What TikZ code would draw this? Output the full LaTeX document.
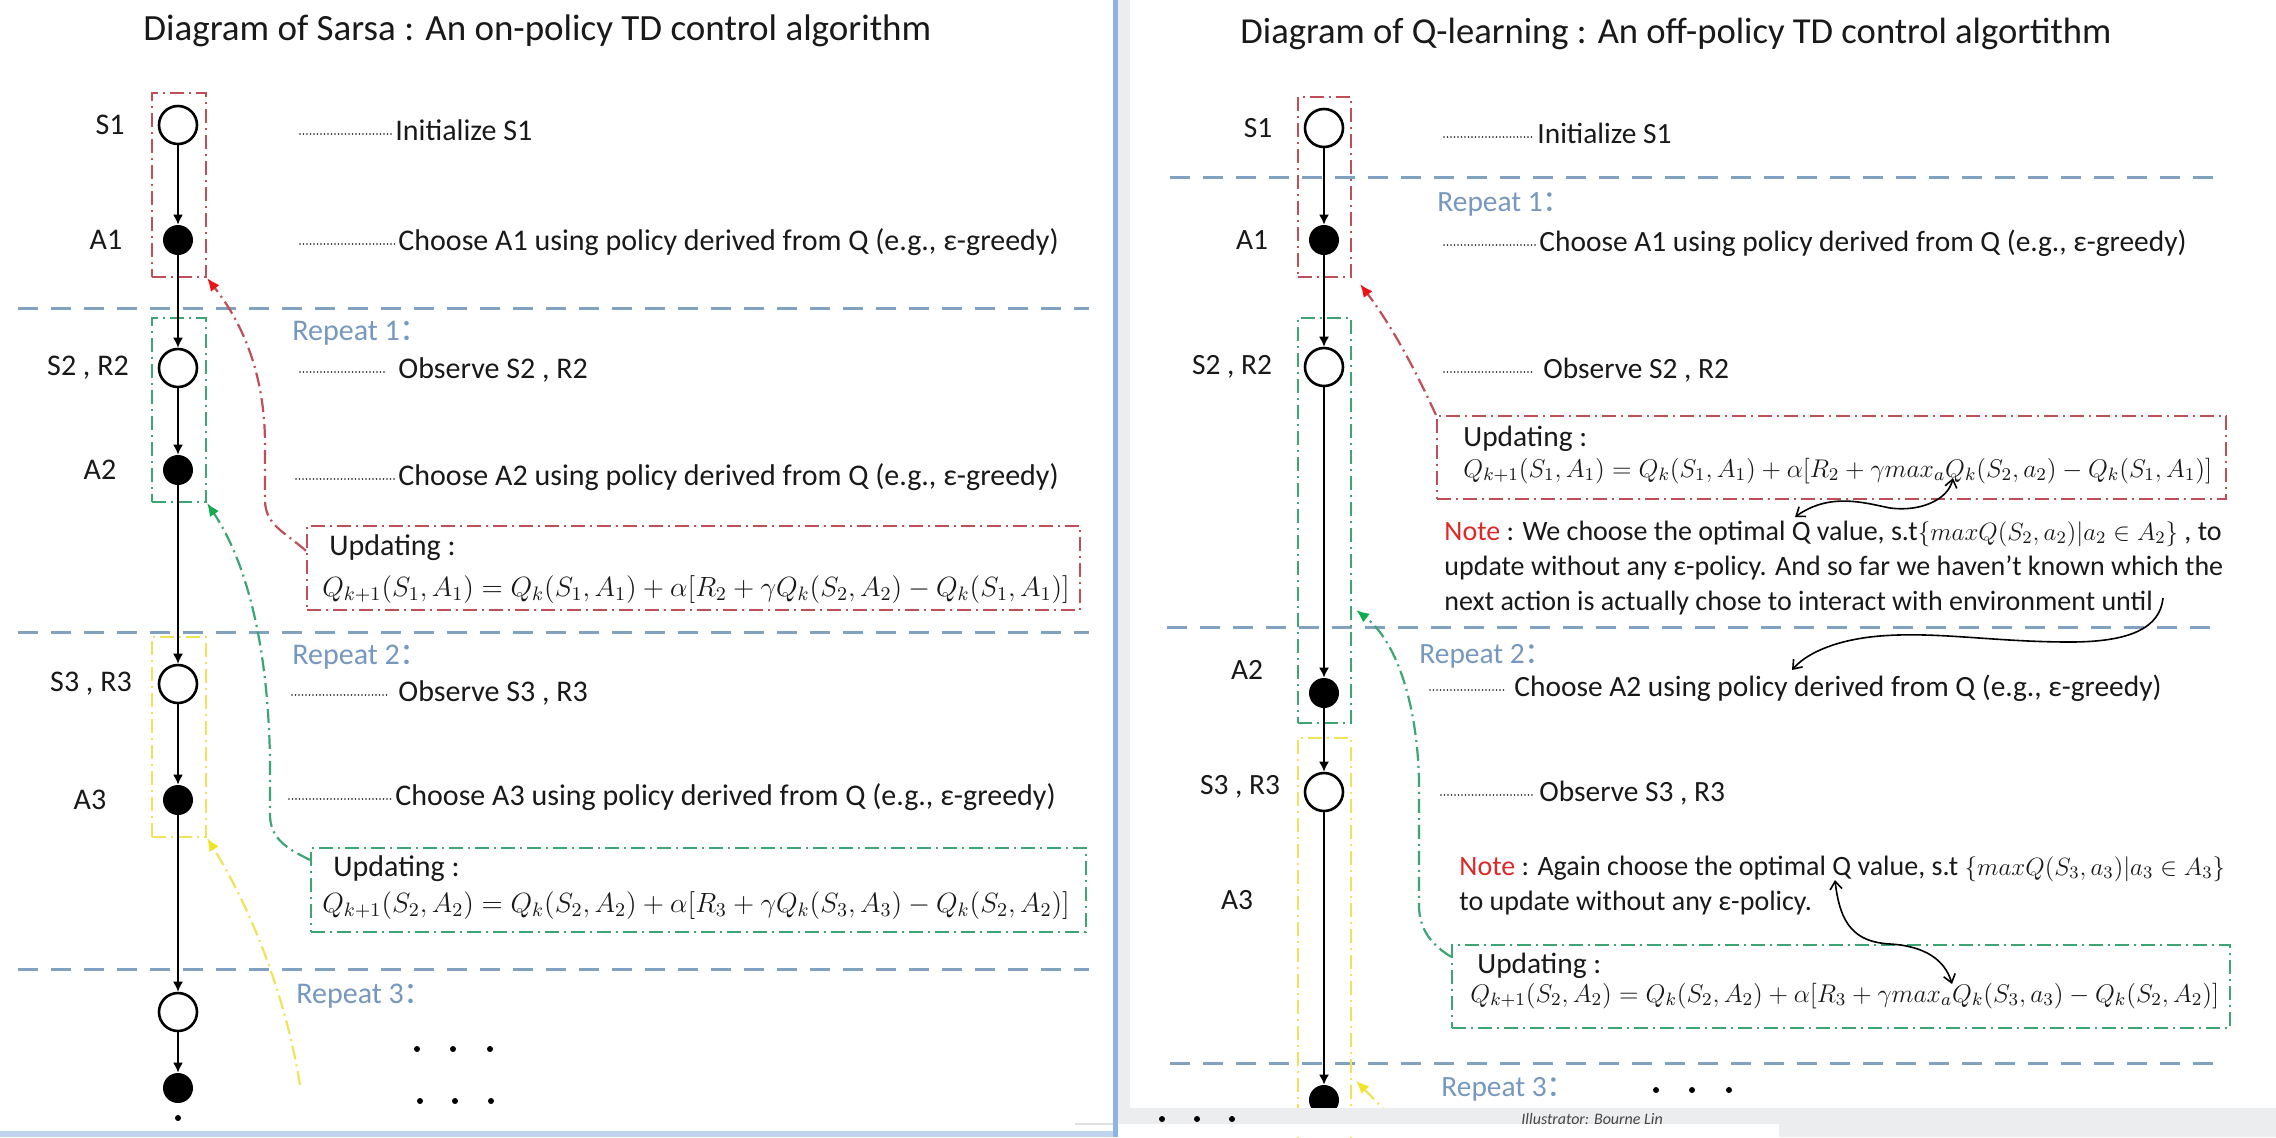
\RequirePackage{fix-cm}
\documentclass[tikz,border=0pt]{standalone}
\usepackage{fontspec}
\setmainfont{Carlito}
\newfontfamily\cjk{Noto Sans CJK SC}
\usetikzlibrary{arrows.meta,calc}
\definecolor{sepblue}{RGB}{128,162,192}
\definecolor{repblue}{RGB}{118,152,192}
\definecolor{boxred}{RGB}{190,78,88}
\definecolor{tipred}{RGB}{235,20,20}
\definecolor{boxgreen}{RGB}{60,165,115}
\definecolor{tipgreen}{RGB}{20,170,80}
\definecolor{boxyellow}{RGB}{238,228,90}
\definecolor{tipyellow}{RGB}{240,228,40}
\definecolor{notered}{RGB}{222,40,40}
\definecolor{ink}{RGB}{25,25,25}
\definecolor{frameblue}{RGB}{140,180,228}
\definecolor{stripgray}{RGB}{236,237,239}
\definecolor{lightblue}{RGB}{190,212,240}
\newcommand{\bodyfont}{\fontsize{15}{18}\selectfont}
\newcommand{\bodyfontR}{\fontsize{14.7}{18}\selectfont}
\newcommand{\notefont}{\fontsize{14}{17}\selectfont}
\newcommand{\titlefont}{\fontsize{18.5}{22}\selectfont}
\newcommand{\titlefontR}{\fontsize{18.3}{22}\selectfont}
\newcommand{\mathszL}{\fontsize{13.9}{16}\selectfont}
\newcommand{\mathszR}{\fontsize{12.8}{15}\selectfont}
\newcommand{\mathszN}{\fontsize{12.5}{15}\selectfont}
\newcommand{\rcolon}{{\cjk ：}}
\tikzset{
  sepline/.style={draw=sepblue, line width=1.5pt, dash pattern=on 10pt off 6.5pt},
  dashdot/.style={line width=1.1pt, dash pattern=on 7pt off 2.5pt on 1pt off 2.5pt},
  colbox/.style={dashdot, rectangle, inner sep=0pt, minimum width=27pt},
  updbox/.style={dashdot, rectangle, inner sep=0pt, minimum height=42pt},
  snode/.style={circle, draw=black, line width=1.3pt, fill=white, minimum size=19pt, inner sep=0pt},
  anode/.style={circle, fill=black, minimum size=15pt, inner sep=0pt},
  tinydot/.style={circle, fill=black, minimum size=3pt, inner sep=0pt},
  flow/.style={draw=black, line width=0.8pt, -{Latex[length=5pt,width=5pt]}},
  lbl/.style={font=\bodyfont, text=ink, inner sep=0pt},
  lblR/.style={font=\bodyfontR, text=ink, inner sep=0pt},
  txt/.style={font=\bodyfont, text=ink, inner sep=0pt, anchor=base west},
  txtR/.style={font=\bodyfontR, text=ink, inner sep=0pt, anchor=base west},
  note/.style={font=\notefont, text=ink, inner sep=0pt, anchor=base west},
  rep/.style={font=\bodyfont, text=repblue, inner sep=0pt, anchor=base west},
  repR/.style={font=\bodyfontR, text=repblue, inner sep=0pt, anchor=base west},
  ttl/.style={font=\titlefont, text=ink, inner sep=0pt, anchor=base west},
  ttlR/.style={font=\titlefontR, text=ink, inner sep=0pt, anchor=base west},
  fml/.style={font=\mathszL, text=ink, inner sep=0pt, anchor=base west},
  fmlR/.style={font=\mathszR, text=ink, inner sep=0pt, anchor=base west},
  leader/.style={draw=ink, line width=0.9pt, line cap=round, dash pattern=on 0pt off 1.75pt},
  wavy/.style={draw=black, line width=0.8pt},
  barb/.tip={Straight Barb[length=4pt,width=6pt]},
}
\begin{document}
\begin{tikzpicture}[x=0.5pt,y=-0.5pt]
\useasboundingbox (0,0) rectangle (2276,1137);
\fill[white] (0,0) rectangle (2276,1137);

% ---------------- LEFT PANEL (Sarsa) ----------------
\node[ttl] (Ltitle) at (143,40) {Diagram of Sarsa : An on-policy TD control algorithm};

\draw[sepline] (18,308) -- (1089,308);
\draw[sepline] (18,632) -- (1089,632);
\draw[sepline] (18,969) -- (1089,969);

\node[colbox, draw=boxred, minimum height=92pt] (LRbox) at (179,185) {};
\node[colbox, draw=boxgreen, minimum height=92pt] (LGbox) at (179,410) {};
\node[colbox, draw=boxyellow, minimum height=100pt] (LYbox) at (179,737) {};

\node[snode] (LS1) at (178,125) {};
\node[anode] (LA1) at (178,240) {};
\node[snode] (LS2) at (178,368) {};
\node[anode] (LA2) at (178,470) {};
\node[snode] (LS3) at (178,684) {};
\node[anode] (LA3) at (178,800) {};
\node[snode] (LS4) at (178,1012) {};
\node[anode] (LA4) at (178,1088) {};
\node[tinydot] (Lend) at (178,1118) {};
\draw[flow] (LS1) -- (LA1);
\draw[flow] (LA1) -- (LS2);
\draw[flow] (LS2) -- (LA2);
\draw[flow] (LA2) -- (LS3);
\draw[flow] (LS3) -- (LA3);
\draw[flow] (LA3) -- (LS4);
\draw[flow] (LS4) -- (LA4);

\node[lbl] (LlS1) at (110,125) {S1};
\node[lbl] (LlA1) at (106,240) {A1};
\node[lbl] (LlS2) at (88,368) {S2 , R2};
\node[lbl] (LlA2) at (100,470) {A2};
\node[lbl] (LlS3) at (91,684) {S3 , R3};
\node[lbl] (LlA3) at (90,800) {A3};

\node[txt] (Lt1) at (395,140) {Initialize S1};
\node[txt] (Lt2) at (398,250) {Choose A1 using policy derived from Q (e.g., ε-greedy)};
\node[txt] (Lt3) at (398,378) {Observe S2 , R2};
\node[txt] (Lt4) at (398,485) {Choose A2 using policy derived from Q (e.g., ε-greedy)};
\node[txt] (Lt5) at (398,701) {Observe S3 , R3};
\node[txt] (Lt6) at (395,805) {Choose A3 using policy derived from Q (e.g., ε-greedy)};
\coordinate (Ll1a) at (300,134); \coordinate (Ll1b) at (393,134);
\coordinate (Ll2a) at (300,244); \coordinate (Ll2b) at (395,244);
\coordinate (Ll3a) at (300,372); \coordinate (Ll3b) at (387,372);
\coordinate (Ll4a) at (296,479); \coordinate (Ll4b) at (395,479);
\coordinate (Ll5a) at (292,695); \coordinate (Ll5b) at (387,695);
\coordinate (Ll6a) at (289,799); \coordinate (Ll6b) at (391,799);
\foreach \i in {1,...,6} {\draw[leader] (Ll\i a) -- (Ll\i b);}

\node[rep] (Lr1) at (292,340) {Repeat 1\rcolon};
\node[rep] (Lr2) at (292,664) {Repeat 2\rcolon};
\node[rep] (Lr3) at (296,1003) {Repeat 3\rcolon};

\node[updbox, draw=boxred, minimum width=386.5pt] (LRupd) at (693.5,568) {};
\node[txt] (LRu1) at (329,555) {Updating :};
\node[fml] (LRu2) at (322,596) {$Q_{k+1}(S_1,A_1) = Q_k(S_1,A_1) + \alpha[R_2 + \gamma Q_k(S_2,A_2) - Q_k(S_1,A_1)]$};

\node[updbox, draw=boxgreen, minimum width=387.5pt] (LGupd) at (698.5,890) {};
\node[txt] (LGu1) at (333,876) {Updating :};
\node[fml] (LGu2) at (322,912) {$Q_{k+1}(S_2,A_2) = Q_k(S_2,A_2) + \alpha[R_3 + \gamma Q_k(S_3,A_3) - Q_k(S_2,A_2)]$};

\draw[dashdot, draw=boxred, -{Latex[length=6.5pt,width=5.5pt,color=tipred]}]
  ($(LRupd.north west)!0.3!(LRupd.south west)$) .. controls (285,532) and (265,525) .. (265,500)
  -- (265,445) .. controls (265,370) and (240,320) .. (LRbox.south east);
\draw[dashdot, draw=boxgreen, -{Latex[length=6.5pt,width=5.5pt,color=tipgreen]}]
  ($(LGupd.north west)!0.15!(LGupd.south west)$) .. controls (290,850) and (270,840) .. (270,815)
  -- (270,760) .. controls (268,640) and (245,560) .. (LGbox.south east);
\coordinate (Ly0) at (300,1085);
\draw[dashdot, draw=boxyellow, -{Latex[length=6.5pt,width=5.5pt,color=tipyellow]}]
  (Ly0) .. controls (288,1010) and (258,920) .. (LYbox.south east);

\foreach \x/\n in {417/a,453/b,490/c} {\node[tinydot] (Ldu\n) at (\x,1049) {};}
\foreach \x/\n in {420/a,455/b,491/c} {\node[tinydot] (Ldd\n) at (\x,1101) {};}

% ---------------- RIGHT PANEL (Q-learning) ----------------
\node[ttlR] (Rtitle) at (1240,43) {Diagram of Q-learning : An off-policy TD control algortithm};

\draw[sepline] (1170,177) -- (2216,177);
\draw[sepline] (1167,627) -- (2212,627);
\draw[sepline] (1170,1063) -- (2216,1063);

\node[colbox, draw=boxred, minimum width=26.5pt, minimum height=90pt] (RRbox) at (1324.5,187) {};
\node[colbox, draw=boxgreen, minimum width=26.5pt, minimum height=202.5pt] (RGbox) at (1324.5,520.5) {};
\node[colbox, draw=boxyellow, minimum width=26.5pt, minimum height=206pt] (RYbox) at (1324.5,944) {};

\node[snode] (RS1) at (1324,128) {};
\node[anode] (RA1) at (1324,240) {};
\node[snode] (RS2) at (1324,367) {};
\node[anode] (RA2) at (1324,693) {};
\node[snode] (RS3) at (1324,792) {};
\node[anode] (RA3) at (1324,1100) {};
\draw[flow] (RS1) -- (RA1);
\draw[flow] (RA1) -- (RS2);
\draw[flow] (RS2) -- (RA2);
\draw[flow] (RA2) -- (RS3);
\draw[flow] (RS3) -- (RA3);

\node[lblR] (RlS1) at (1258,128) {S1};
\node[lblR] (RlA1) at (1252,240) {A1};
\node[lblR] (RlS2) at (1232,367) {S2 , R2};
\node[lblR] (RlA2) at (1247,670) {A2};
\node[lblR] (RlS3) at (1240,787) {S3 , R3};
\node[lblR] (RlA3) at (1237,900) {A3};

\node[txtR] (Rt1) at (1537,143) {Initialize S1};
\node[txtR] (Rt2) at (1539,251) {Choose A1 using policy derived from Q (e.g., ε-greedy)};
\node[txtR] (Rt3) at (1543,378) {Observe S2 , R2};
\node[txtR] (Rt4) at (1514,696) {Choose A2 using policy derived from Q (e.g., ε-greedy)};
\node[txtR] (Rt5) at (1539,801) {Observe S3 , R3};
\coordinate (Rl1a) at (1444,137); \coordinate (Rl1b) at (1534,137);
\coordinate (Rl2a) at (1444,245); \coordinate (Rl2b) at (1536,245);
\coordinate (Rl3a) at (1444,372); \coordinate (Rl3b) at (1532,372);
\coordinate (Rl4a) at (1430,690); \coordinate (Rl4b) at (1506,690);
\coordinate (Rl5a) at (1441,795); \coordinate (Rl5b) at (1532,795);
\foreach \i in {1,...,5} {\draw[leader] (Rl\i a) -- (Rl\i b);}

\node[repR] (Rr1) at (1437,211) {Repeat 1\rcolon};
\node[repR] (Rr2) at (1419,663) {Repeat 2\rcolon};
\node[repR] (Rr3) at (1441,1096) {Repeat 3\rcolon};

\node[updbox, draw=boxred, minimum width=394.5pt, minimum height=41.5pt] (RRupd) at (1831.5,457.5) {};
\node[txtR] (RRu1) at (1463,446) {Updating :};
\node[fmlR] (RRu2) at (1463,477) {$Q_{k+1}(S_1,A_1) = Q_k(S_1,A_1) + \alpha[R_2 + \gamma max_aQ_k(S_2,a_2) - Q_k(S_1,A_1)]$};

\node[note] (Rn1) at (1444,540) {\textcolor{notered}{Note} : We choose the optimal Q value, s.t{\mathszN$\{maxQ(S_2,a_2)|a_2 \in A_2\}$} , to};
\node[note] (Rn2) at (1444,575) {update without any ε-policy. And so far we haven’t known which the};
\node[note] (Rn3) at (1444,610) {next action is actually chose to interact with environment until};

\node[note] (Rm1) at (1459,875) {\textcolor{notered}{Note} : Again choose the optimal Q value, s.t {\mathszN$\{maxQ(S_3,a_3)|a_3 \in A_3\}$}};
\node[note] (Rm2) at (1459,910) {to update without any ε-policy.};

\node[updbox, draw=boxgreen, minimum width=389pt, minimum height=41.5pt] (RGupd) at (1841,986.5) {};
\node[txtR] (RGu1) at (1477,973) {Updating :};
\node[fmlR] (RGu2) at (1470,1002) {$Q_{k+1}(S_2,A_2) = Q_k(S_2,A_2) + \alpha[R_3 + \gamma max_aQ_k(S_3,a_3) - Q_k(S_2,A_2)]$};

\draw[dashdot, draw=boxred, -{Latex[length=6.5pt,width=5.5pt,color=tipred]}]
  (RRupd.north west) .. controls (1420,380) and (1395,330) .. ([xshift=4pt,yshift=-3pt]RRbox.south east);
\draw[dashdot, draw=boxgreen, -{Latex[length=6.5pt,width=5.5pt,color=tipgreen]}]
  ($(RGupd.north west)!0.15!(RGupd.south west)$) .. controls (1432,945) and (1419,930) .. (1419,905)
  -- (1419,780) .. controls (1417,700) and (1395,640) .. ([xshift=2pt]$(RGbox.north east)!0.72!(RGbox.south east)$);
\coordinate (Ry0) at (1392,1118);
\draw[dashdot, draw=boxyellow, -{Latex[length=6.5pt,width=5.5pt,color=tipyellow]}]
  (Ry0) -- ([xshift=2pt]$(RYbox.north east)!0.83!(RYbox.south east)$);

\coordinate (W1a) at (1795,517); \coordinate (W1b) at (1953,478);
\draw[wavy, barb-barb] (W1a) .. controls (1830,492) and (1865,503) .. (1890,508)
  .. controls (1920,512) and (1948,500) .. (W1b);
\coordinate (W2a) at (2163,598); \coordinate (W2b) at (1792,670);
\draw[wavy, -barb] (W2a) .. controls (2160,628) and (2130,642) .. (2070,642)
  .. controls (1990,642) and (1930,630) .. (1870,637) .. controls (1830,642) and (1805,655) .. (W2b);
\coordinate (W3a) at (1835,880); \coordinate (W3b) at (1952,984);
\draw[wavy, barb-barb] (W3a) .. controls (1840,925) and (1855,942) .. (1890,944)
  .. controls (1925,946) and (1945,960) .. (W3b);

\foreach \x/\n in {1656/a,1692/b,1729/c} {\node[tinydot] (Rdu\n) at (\x,1090) {};}

% ---------------- screenshot frame ----------------
\fill[stripgray] (1118,0) rectangle (1130,1108);
\fill[stripgray] (1118,1108) rectangle (2276,1137);
\fill[white] (1118,1124) rectangle (1779,1137);
\draw[draw={rgb,255:red,225;green,225;blue,225}, line width=0.8pt] (1075,1124) -- (1114,1124);
\fill[lightblue] (0,1131) rectangle (1116,1137);
\fill[frameblue] (1113,0) rectangle (1118,1137);
\foreach \x/\n in {1162/a,1197/b,1232/c} {\node[tinydot] (Rdb\n) at (\x,1119) {};}
\node[font=\fontsize{8}{9}\selectfont\itshape, text={rgb,255:red,70;green,70;blue,70}, inner sep=0pt, anchor=west] (illus) at (1521,1119) {Illustrator: Bourne Lin};
\end{tikzpicture}
\end{document}
